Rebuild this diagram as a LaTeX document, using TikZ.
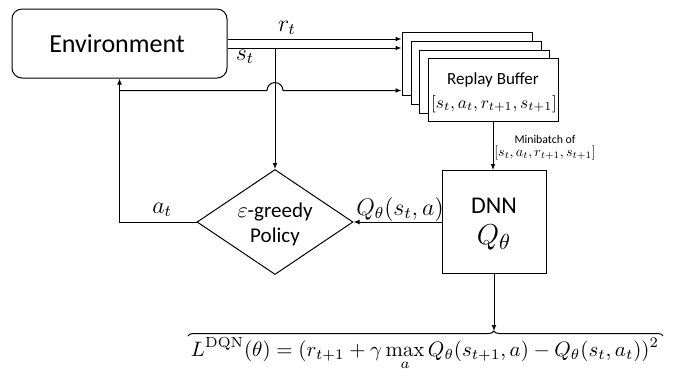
\documentclass[tikz,border=0pt]{standalone}
\usepackage{amsmath}
\usepackage{fontspec}
\setsansfont{Carlito}
\usetikzlibrary{arrows.meta,positioning,shapes.geometric,decorations.pathreplacing}

\begin{document}
\begin{tikzpicture}[
  x=0.5pt,y=-0.5pt,
  every node/.style={font=\sffamily,align=center,inner sep=0pt},
  blk/.style={draw,line width=0.5pt,fill=white,minimum width=65pt,minimum height=31.5pt},
  arr/.style={-{Latex[length=3pt,width=2.4pt]},line width=0.5pt},
  lab/.style={font=\fontsize{11.5}{14}\selectfont}
]
\useasboundingbox (0,0) rectangle (678,372);
\node[draw,line width=0.5pt,rounded corners=5pt,minimum width=107.5pt,minimum height=34.5pt] (env) at (119.5,43.5) {};
\node[font=\sffamily\fontsize{13}{15}\selectfont] (envtext) at (117,44) {Environment};
% stacked replay buffers
\node[blk] (bufA) at (467,63.5) {};
\node[blk] (bufB) at (476,72.5) {};
\node[blk] (bufC) at (484.5,81.5) {};
\node[blk] (buf) at (493,90) {};
\node[font=\sffamily\fontsize{8.5}{10}\selectfont] (buftext) at (493,80) {Replay Buffer};
\node[font=\normalsize] (buftuple) at (494,104) {\scalebox{0.87}{$[s_t,a_t,r_{t+1},s_{t+1}]$}};
\node[draw,line width=0.5pt,minimum width=52pt,minimum height=51.5pt] (dnn) at (494,222) {};
\node[font=\sffamily\fontsize{12}{14}\selectfont] (dnntext) at (494,206) {DNN};
\node[font=\fontsize{15}{17}\selectfont] (qtheta) at (494,237) {$Q_\theta$};
\node[diamond,draw,line width=0.5pt,minimum width=78pt,minimum height=52.5pt] (policy) at (275,222) {};
\node[font=\sffamily\fontsize{10.5}{12.5}\selectfont] (policytext) at (275,224) {$\varepsilon$-greedy\\Policy};
\node[font=\normalsize] (loss) at (425,354) {\scalebox{1.045}{$\displaystyle L^{\mathrm{DQN}}(\theta)=(r_{t+1}+\gamma\max_a Q_\theta(s_{t+1},a)-Q_\theta(s_t,a_t))^2$}};
% labels
\node[lab] (rlab) at (287,28) {$r_t$};
\node[lab] (slab) at (245,57) {$s_t$};
\node[lab] (alab) at (162,210) {$a_t$};
\node[lab] (qlab) at (400,209) {$Q_\theta(s_t,a)$};
\node[font=\sffamily\fontsize{5.9}{7}\selectfont] (mbtext) at (545,139) {Minibatch of};
\node[font=\normalsize] (mbtuple) at (545,153) {\scalebox{0.70}{$[s_t,a_t,r_{t+1},s_{t+1}]$}};
% connectors
\coordinate (rout) at ([yshift=2.25pt]env.east);
\coordinate (sout) at ([yshift=-2.25pt]env.east);
\draw[arr] (rout) -- (rout -| bufA.west);
\draw[arr] (sout) -- (sout -| bufA.west);
\draw[arr] (sout -| policy.north) -- (policy.north);
\draw[arr] (policy.west) -| (env.south);
\path (env.south) ++(0,12) coordinate (fork);
\coordinate (cross) at (fork -| policy.north);
\draw[arr] (fork) -- ([xshift=-4pt]cross) arc (180:360:8) -- (fork -| bufA.west);
\draw[arr] (buf.south) -- (buf.south |- dnn.north);
\draw[arr] (dnn.west) -- (policy.east);
\draw[line width=0.5pt,decorate,decoration={brace,amplitude=2.5pt,aspect=0.644}] (188,336) -- (663,336);
\coordinate (tip) at (dnn.south |- 0,331);
\draw[arr] (dnn.south) -- (tip);
\end{tikzpicture}
\end{document}
